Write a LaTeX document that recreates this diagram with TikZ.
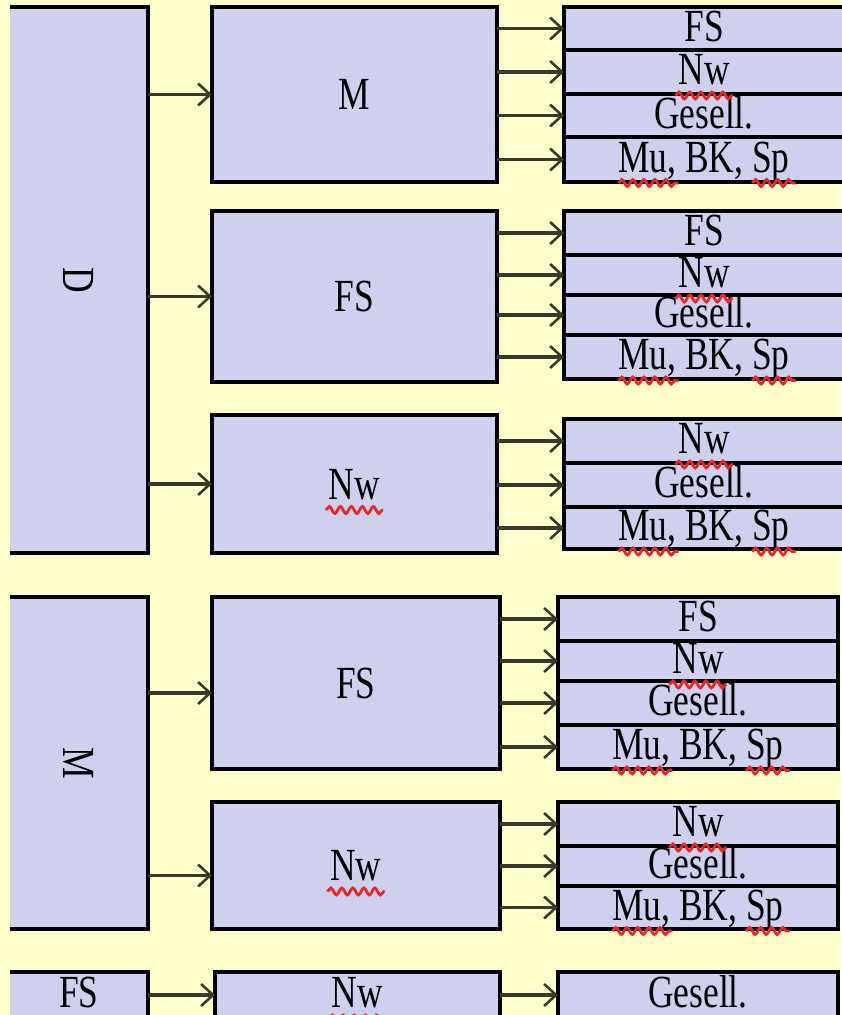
\documentclass[tikz,border=0pt]{standalone}
\usepackage{fontspec}
\setmainfont[FakeStretch=0.77]{Liberation Serif}
\usetikzlibrary{arrows.meta,decorations.pathmorphing,calc}

\definecolor{bgyellow}{RGB}{255,255,204}
\definecolor{boxfill}{RGB}{206,208,238}
\definecolor{arrowdark}{RGB}{58,58,44}
\definecolor{spellred}{RGB}{232,40,40}

\newlength{\wNw}
\newlength{\wMu}
\newlength{\wSp}
\newlength{\wRow}
% red wavy line under a word, offsets from the node's base
\newcommand{\spellword}[3]{\draw[spell] ($(#1.base)+({#2},-11pt)$) -- ($(#1.base)+({#3},-11pt)$);}
\newcommand{\spellnw}[1]{\spellword{#1}{-0.5\wNw-3pt}{0.5\wNw+3pt}}
\newcommand{\spellmusp}[1]{\spellword{#1}{-0.5\wRow}{-0.5\wRow+\wMu+2pt}\spellword{#1}{0.5\wRow-\wSp}{0.5\wRow+6pt}}

\tikzset{
  box/.style={draw=black,line width=3.2pt,fill=boxfill,inner sep=0pt,outer sep=0pt,anchor=north west},
  bigbox/.style={fill=boxfill,inner sep=0pt,outer sep=0pt,anchor=north west,minimum width=138pt},
  midbox/.style={box,text height=30pt,text depth=0pt},
  row/.style={box,minimum width=280pt,text height=31pt,text depth=6pt},
  arr/.style={draw=arrowdark,line width=3.6pt,-{Straight Barb[length=12pt,width=22pt,line width=2.6pt]}},
  edge/.style={draw=black,line width=3.2pt},
  spell/.style={draw=spellred,line width=2.8pt,decorate,decoration={snake,amplitude=3.5pt,segment length=11pt}},
}

\begin{document}
\settowidth{\wNw}{\fontsize{46}{50}\selectfont Nw}%
\settowidth{\wMu}{\fontsize{46}{50}\selectfont Mu,}%
\settowidth{\wSp}{\fontsize{46}{50}\selectfont Sp}%
\settowidth{\wRow}{\fontsize{46}{50}\selectfont Mu, BK, Sp}%
\begin{tikzpicture}[x=1pt,y=1pt,font=\fontsize{46}{50}\selectfont]
\useasboundingbox (0,0) rectangle (841,-1015);
\fill[bgyellow] (0,0) rectangle (841,-1015);
% block D:
\node[bigbox,minimum height=546pt] (D) at (10,-7) {};
\draw[edge] (D.north west) -- (D.north east) -- (D.south east) -- (D.south west);
\node[rotate=-90] (Dtext) at (D.center) {D};
\node[midbox,minimum width=285pt,minimum height=175pt] (M) at (212,-7) {M};
\node[midbox,minimum width=285pt,minimum height=171pt] (FS) at (212,-211) {FS};
\node[midbox,minimum width=285pt,minimum height=138pt] (Nw) at (212,-415) {Nw};
\spellnw{Nw}
\draw[arr] (D.east |- M.west) -- (M.west);
\draw[arr] (D.east |- FS.west) -- (FS.west);
\draw[arr] (D.east |- Nw.west) -- (Nw.west);
% rows after M:
\node[row,minimum height=43pt] (rMa) at (564,-7) {FS};
\node[row,minimum height=44pt] (rMb) at (564,-50) {Nw};
\node[row,minimum height=43pt] (rMc) at (564,-94) {Gesell.};
\node[row,minimum height=45pt] (rMd) at (564,-137) {Mu, BK, Sp};
\spellnw{rMb}
\spellmusp{rMd}
\draw[arr] (M.east |- rMa.west) -- (rMa.west);
\draw[arr] (M.east |- rMb.west) -- (rMb.west);
\draw[arr] (M.east |- rMc.west) -- (rMc.west);
\draw[arr] (M.east |- rMd.west) -- (rMd.west);
% rows after FS:
\node[row,minimum height=44pt] (rFa) at (564,-211) {FS};
\node[row,minimum height=40pt] (rFb) at (564,-255) {Nw};
\node[row,minimum height=40pt] (rFc) at (564,-295) {Gesell.};
\node[row,minimum height=44pt] (rFd) at (564,-335) {Mu, BK, Sp};
\spellnw{rFb}
\spellmusp{rFd}
\draw[arr] (FS.east |- rFa.west) -- (rFa.west);
\draw[arr] (FS.east |- rFb.west) -- (rFb.west);
\draw[arr] (FS.east |- rFc.west) -- (rFc.west);
\draw[arr] (FS.east |- rFd.west) -- (rFd.west);
% rows after Nw:
\node[row,minimum height=44pt] (rNa) at (564,-419) {Nw};
\node[row,minimum height=44pt] (rNb) at (564,-463) {Gesell.};
\node[row,minimum height=42pt] (rNc) at (564,-507) {Mu, BK, Sp};
\spellnw{rNa}
\spellmusp{rNc}
\draw[arr] (Nw.east |- rNa.west) -- (rNa.west);
\draw[arr] (Nw.east |- rNb.west) -- (rNb.west);
\draw[arr] (Nw.east |- rNc.west) -- (rNc.west);
% block M:
\node[bigbox,minimum height=332pt] (M2) at (10,-597) {};
\draw[edge] (M2.north west) -- (M2.north east) -- (M2.south east) -- (M2.south west);
\node[rotate=-90] (M2text) at (M2.center) {M};
\node[midbox,minimum width=288pt,minimum height=172pt] (FS2) at (212,-597) {FS};
\node[midbox,minimum width=288pt,minimum height=127pt] (Nw2) at (212,-802) {Nw};
\spellnw{Nw2}
\coordinate (inFS2) at ([yshift=-10pt]FS2.west);
\coordinate (inNw2) at ([yshift=-10pt]Nw2.west);
\draw[arr] (M2.east |- inFS2) -- (inFS2);
\draw[arr] (M2.east |- inNw2) -- (inNw2);
% rows after FS (block M):
\node[row,minimum height=44pt] (sFa) at (558,-597) {FS};
\node[row,minimum height=40pt] (sFb) at (558,-641) {Nw};
\node[row,minimum height=44pt] (sFc) at (558,-681) {Gesell.};
\node[row,minimum height=44pt] (sFd) at (558,-725) {Mu, BK, Sp};
\spellnw{sFb}
\spellmusp{sFd}
\draw[arr] (FS2.east |- sFa.west) -- (sFa.west);
\draw[arr] (FS2.east |- sFb.west) -- (sFb.west);
\draw[arr] (FS2.east |- sFc.west) -- (sFc.west);
\draw[arr] (FS2.east |- sFd.west) -- (sFd.west);
% rows after Nw (block M):
\node[row,minimum height=44pt] (sNa) at (558,-802) {Nw};
\node[row,minimum height=40pt] (sNb) at (558,-846) {Gesell.};
\node[row,minimum height=43pt] (sNc) at (558,-886) {Mu, BK, Sp};
\spellnw{sNa}
\spellmusp{sNc}
\draw[arr] (Nw2.east |- sNa.west) -- (sNa.west);
\draw[arr] (Nw2.east |- sNb.west) -- (sNb.west);
\draw[arr] (Nw2.east |- sNc.west) -- (sNc.west);
% block FS:
\node[bigbox,minimum height=46pt,text height=31pt,text depth=6pt] (FS3) at (10,-972) {FS};
\draw[edge] (FS3.north west) -- (FS3.north east) -- (FS3.south east) -- (FS3.south west);
\node[row,minimum width=285pt,minimum height=46pt] (Nw3) at (215,-972) {Nw};
\node[row,minimum height=46pt] (G3) at (558,-972) {Gesell.};
\spellnw{Nw3}
\draw[arr] (FS3.east |- Nw3.west) -- (Nw3.west);
\draw[arr] (Nw3.east |- G3.west) -- (G3.west);
\end{tikzpicture}
\end{document}
